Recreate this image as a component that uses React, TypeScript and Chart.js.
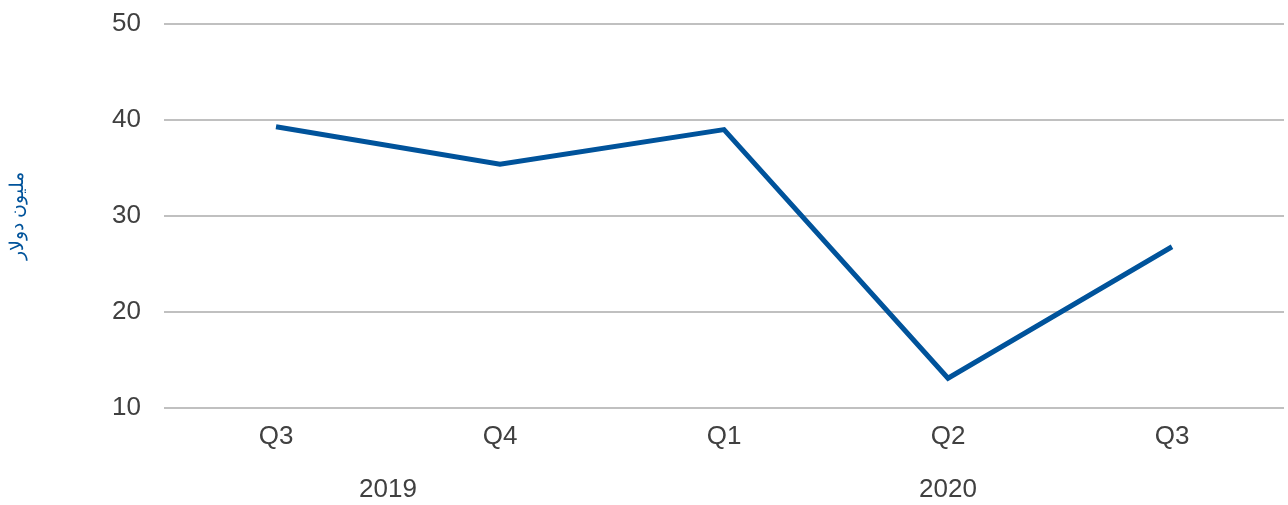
import React, { useEffect, useRef } from "react";
import { Chart, registerables } from "chart.js";

Chart.register(...registerables);

const categories = ["Q3", "Q4", "Q1", "Q2", "Q3"];
const values = [39.3, 35.4, 39.0, 13.1, 26.8];
const yearLabels = ["2019", "2020"];
const yearStart = [0, 2];
const yearEnd = [1, 4];
const yTicks = [10, 20, 30, 40, 50];
const yTitle = "مليون دولار";

const FONT = "'Liberation Sans', Arial, sans-serif";
const TEXT = "#404040";

export default function App() {
  const ref = useRef<HTMLCanvasElement>(null);
  useEffect(() => {
    if (!ref.current) return;
    const yearPlugin = {
      id: "yearLabels",
      afterDraw(chart: any) {
        const x = chart.scales.x;
        const ctx = chart.ctx;
        ctx.save();
        ctx.font = `26px ${FONT}`;
        ctx.fillStyle = TEXT;
        ctx.textAlign = "center";
        ctx.textBaseline = "middle";
        yearLabels.forEach((lab, i) => {
          const px = (x.getPixelForValue(yearStart[i]) + x.getPixelForValue(yearEnd[i])) / 2;
          ctx.fillText(lab, px, 490);
        });
        ctx.restore();
      },
    };
    const chart = new Chart(ref.current, {
      type: "line",
      data: {
        labels: categories,
        datasets: [
          {
            data: values,
            borderColor: "#00539b",
            borderWidth: 5,
            borderJoinStyle: "miter",
            pointRadius: 0,
            tension: 0,
            fill: false,
          },
        ],
      },
      options: {
        responsive: false,
        animation: false,
        layout: { padding: { top: 24, right: 4, left: 0, bottom: 0 } },
        plugins: { legend: { display: false }, tooltip: { enabled: false } },
        scales: {
          x: {
            offset: true,
            grid: { display: false, drawTicks: false },
            border: { display: false },
            ticks: {
              color: TEXT,
              font: { family: FONT, size: 26 },
              padding: 13,
              maxRotation: 0,
            },
            afterFit(scale: any) {
              scale.height = 97;
              scale.paddingLeft = 0;
              scale.paddingRight = 0;
            },
          },
          y: {
            min: 10,
            max: 50,
            afterBuildTicks(scale: any) {
              scale.ticks = yTicks.map((v) => ({ value: v }));
            },
            grid: { color: "#c0c0c0", lineWidth: 2, drawTicks: false },
            border: { display: false },
            ticks: {
              color: TEXT,
              font: { family: FONT, size: 26 },
              padding: 23,
            },
            title: {
              display: true,
              text: yTitle,
              color: "#00539b",
              font: { family: FONT, size: 19 },
              padding: { top: 6, bottom: 0 },
            },
            afterFit(scale: any) {
              scale.width = 164;
              scale.paddingTop = 0;
              scale.paddingBottom = 0;
            },
          },
        },
      },
      plugins: [yearPlugin],
    });
    return () => chart.destroy();
  }, []);
  return (
    <div style={{ position: "fixed", left: 0, top: 0, width: 1288, height: 505, background: "#fff" }}>
      <canvas ref={ref} width={1288} height={505} />
    </div>
  );
}
